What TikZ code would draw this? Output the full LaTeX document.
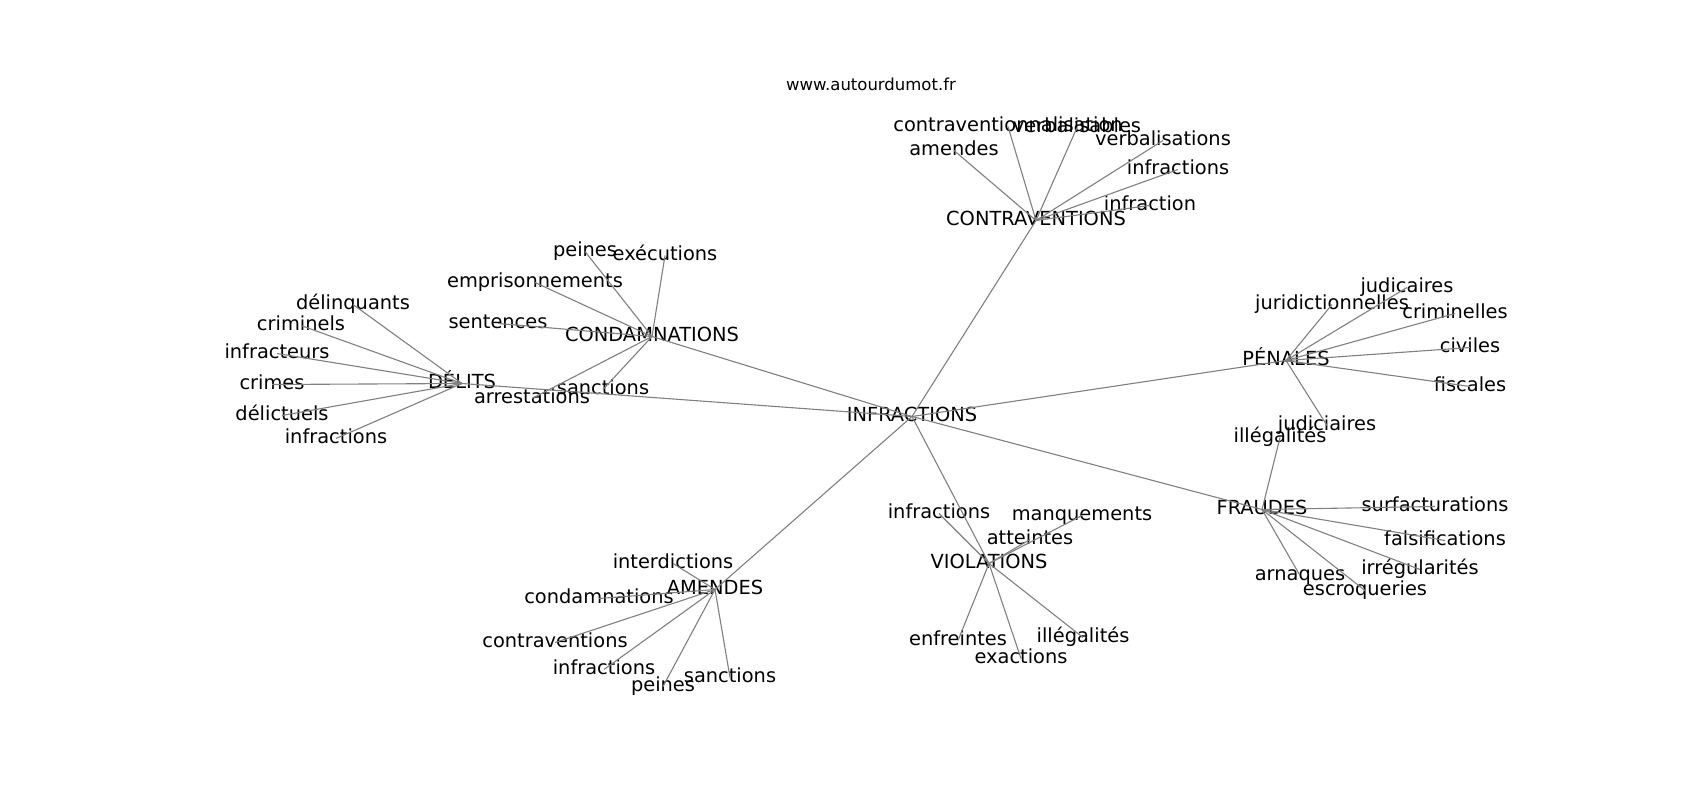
\documentclass[tikz,border=0pt]{standalone}
\usepackage{fontspec}
\setmainfont{DejaVu Sans}
\begin{document}
\begin{tikzpicture}[x=1pt,y=-1pt,
  lbl/.style={inner sep=0pt, font=\fontsize{19.4}{21}\selectfont, text height=2.05ex, text depth=0.2ex},
  ttl/.style={inner sep=0pt, font=\fontsize{16.5}{18}\selectfont, text height=1.85ex, text depth=0.2ex},
  edge/.style={draw=gray, line width=1.1pt}]
\useasboundingbox[fill=white] (0,-2.5) rectangle (1700,797.5);
\node[ttl] (title) at (871,83) {www.autourdumot.fr};
% hubs
\node[lbl] (inf) at (912,414) {INFRACTIONS};
\node[lbl] (contr) at (1036,218) {CONTRAVENTIONS};
\node[lbl] (pen) at (1286,358) {PÉNALES};
\node[lbl] (fra) at (1262,507) {FRAUDES};
\node[lbl] (del) at (462,381) {DÉLITS};
\node[lbl] (cond) at (652,334) {CONDAMNATIONS};
\node[lbl] (am) at (715,587) {AMENDES};
\node[lbl] (vio) at (989,561) {VIOLATIONS};
% contraventions
\node[lbl] (c1) at (1008,124) {contraventionnalisation};
\node[lbl] (c2) at (1077,125) {verbalisables};
\node[lbl] (c3) at (954,148) {amendes};
\node[lbl] (c4) at (1163,138) {verbalisations};
\node[lbl] (c5) at (1178,167) {infractions};
\node[lbl] (c6) at (1150,203) {infraction};
% penales
\node[lbl] (p1) at (1332,302) {juridictionnelles};
\node[lbl] (p2) at (1407,285) {judicaires};
\node[lbl] (p3) at (1455,311) {criminelles};
\node[lbl] (p4) at (1470,345) {civiles};
\node[lbl] (p5) at (1470,384) {fiscales};
\node[lbl] (p6) at (1327,423) {judiciaires};
% fraudes
\node[lbl] (f1) at (1280,435) {illégalités};
\node[lbl] (f2) at (1435,504) {surfacturations};
\node[lbl] (f3) at (1445,538) {falsifications};
\node[lbl] (f4) at (1420,567) {irrégularités};
\node[lbl] (f5) at (1300,573) {arnaques};
\node[lbl] (f6) at (1365,588) {escroqueries};
% delits
\node[lbl] (d1) at (353,302) {délinquants};
\node[lbl] (d2) at (301,323) {criminels};
\node[lbl] (d3) at (277,351) {infracteurs};
\node[lbl] (d4) at (272,382) {crimes};
\node[lbl] (d5) at (282,413) {délictuels};
\node[lbl] (d6) at (336,436) {infractions};
% condamnations
\node[lbl] (k1) at (585,249) {peines};
\node[lbl] (k2) at (665,253) {exécutions};
\node[lbl] (k3) at (535,280) {emprisonnements};
\node[lbl] (k4) at (498,321) {sentences};
\node[lbl] (k5) at (603,387) {sanctions};
\node[lbl] (k6) at (532,396) {arrestations};
% amendes
\node[lbl] (a1) at (673,561) {interdictions};
\node[lbl] (a2) at (599,596) {condamnations};
\node[lbl] (a3) at (555,640) {contraventions};
\node[lbl] (a4) at (604,667) {infractions};
\node[lbl] (a5) at (663,684) {peines};
\node[lbl] (a6) at (730,675) {sanctions};
% violations
\node[lbl] (v1) at (939,511) {infractions};
\node[lbl] (v2) at (1082,513) {manquements};
\node[lbl] (v3) at (1030,537) {atteintes};
\node[lbl] (v4) at (958,638) {enfreintes};
\node[lbl] (v5) at (1021,656) {exactions};
\node[lbl] (v6) at (1083,635) {illégalités};
% edges
\foreach \a/\b in {inf/contr,inf/cond,inf/del,inf/pen,inf/fra,inf/am,inf/vio,
  contr/c1,contr/c2,contr/c3,contr/c4,contr/c5,contr/c6,
  pen/p1,pen/p2,pen/p3,pen/p4,pen/p5,pen/p6,
  fra/f1,fra/f2,fra/f3,fra/f4,fra/f5,fra/f6,
  del/d1,del/d2,del/d3,del/d4,del/d5,del/d6,
  cond/k1,cond/k2,cond/k3,cond/k4,cond/k5,cond/k6,
  am/a1,am/a2,am/a3,am/a4,am/a5,am/a6,
  vio/v1,vio/v2,vio/v3,vio/v4,vio/v5,vio/v6}
  \draw[edge] (\a.center) -- (\b.center);
\end{tikzpicture}
\end{document}
